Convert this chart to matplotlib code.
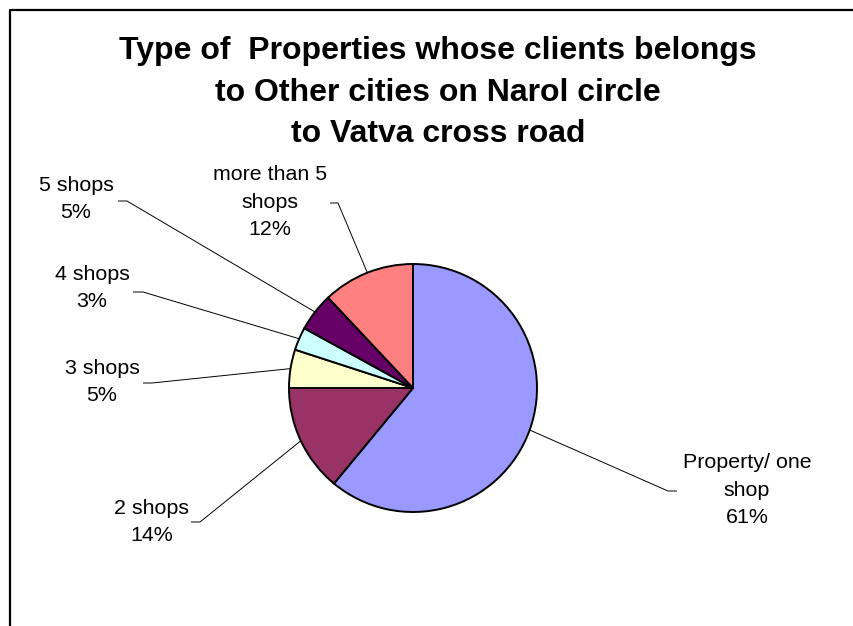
import matplotlib
matplotlib.use("Agg")
import numpy as np
import matplotlib.pyplot as plt

plt.rcParams['font.family'] = ['Liberation Sans', 'DejaVu Sans']

categories = ["Property/ one\nshop", "2 shops", "3 shops", "4 shops", "5 shops", "more than 5\nshops"]
shares = [61, 14, 5, 3, 5, 12]
colors = ["#9999FF", "#993366", "#FFFFCC", "#CCFFFF", "#660066", "#FF8080"]
title = "Type of  Properties whose clients belongs\nto Other cities on Narol circle\nto Vatva cross road"

# layout (pixel coords, y down)
W, H = 854, 626
cx, cy, r = 413, 388, 124
label_pos = [(747, 490), (152, 522), (102, 382), (92, 288), (76, 199), (270, 202)]
ticks = [(677, 668, 491), (191, 200, 522), (143, 152, 383), (133, 143, 292), (118, 127, 201), (330, 338, 203)]

fig = plt.figure(figsize=(W / 100, H / 100), dpi=100)
ax = fig.add_axes([0, 0, 1, 1])

wedges, _ = ax.pie(shares, colors=colors, startangle=-90, counterclock=True,
                   center=(cx, cy), radius=r,
                   wedgeprops=dict(edgecolor="black", linewidth=1.4))
ax.set_xlim(0, W)
ax.set_ylim(H, 0)
ax.set_aspect("equal")
ax.axis("off")

for w, cat, val, (tx, ty), (t0, t1, tyy) in zip(wedges, categories, shares, label_pos, ticks):
    mid = np.deg2rad((w.theta1 + w.theta2) / 2)
    ex, ey = cx + r * np.cos(mid), cy + r * np.sin(mid)
    ax.plot([t0, t1, ex], [tyy, tyy, ey], color="black", lw=0.7, solid_capstyle="butt")
    ax.text(tx, ty, f"{cat}\n{val}%", ha="center", va="center", fontsize=15.4,
            multialignment="center", linespacing=1.58)

ax.text(438, 93, title, ha="center", va="center", fontsize=23, fontweight="bold",
        linespacing=1.5)

# chart frame (only top and left edges are inside the picture)
ax.plot([10, 10, W + 5], [H + 5, 9.5, 9.5], color="black", lw=1.6, clip_on=False)

fig.savefig("out.png", dpi=100)
